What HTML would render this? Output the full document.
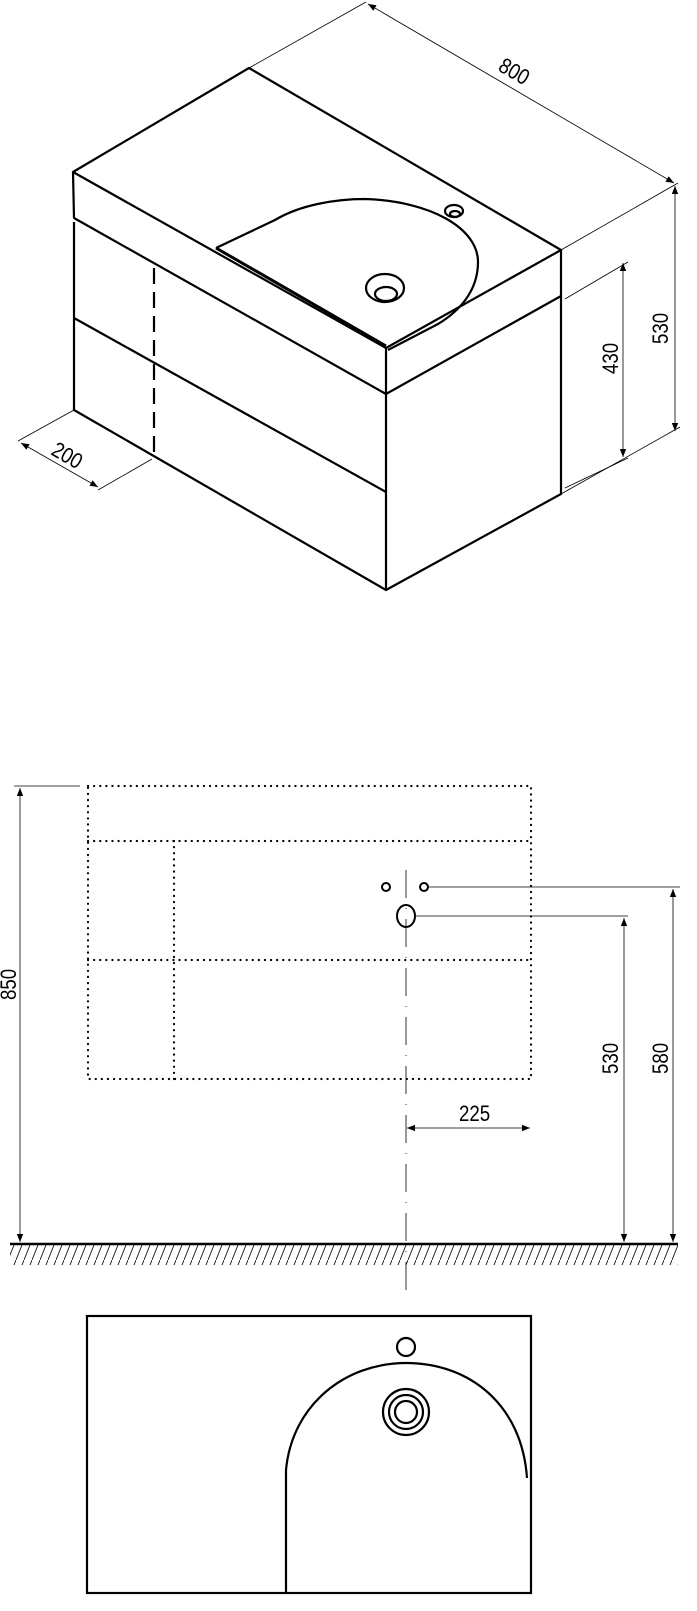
<!DOCTYPE html>
<html><head><meta charset="utf-8"><style>
html,body{margin:0;padding:0;background:#fff;}
svg{display:block;}
text{font-family:"Liberation Sans",sans-serif;font-size:22px;fill:#000;}
</style></head><body>
<svg width="697" height="1611" viewBox="0 0 697 1611" xmlns="http://www.w3.org/2000/svg">
<defs>
<marker id="ar" viewBox="0 0 10 10" refX="10" refY="5" markerWidth="14" markerHeight="8" orient="auto-start-reverse" markerUnits="userSpaceOnUse"><path d="M0,1 L10,5 L0,9 z" fill="#000"/></marker>
<pattern id="hatch" width="8" height="20" patternUnits="userSpaceOnUse"><path d="M8,0 L0,20" stroke="#000" stroke-width="0.8"/></pattern>
</defs>
<g fill="none" stroke="#000" stroke-width="2.2" stroke-linejoin="round">
<path d="M249,68 L73,172 L386,348 L561,250 Z"/>
<path d="M73,172 L74,218 L386,394 L561,296 L561,250"/>
<path d="M386,348 L386,394"/>
<path d="M74,222 L74,410 L386,590 L561,494 L561,296"/>
<path d="M386,394 L386,590"/>
<path d="M74,318 L386,492"/>
<path d="M154,268 L154,455" stroke-dasharray="16,8"/>
<path d="M216,248 L275,220 C300,205 335,199 365,199 C430,201 478,228 478,262 C478,292 458,312 438,324 L388,350"/>
<path d="M216,248 L386,346" stroke-width="3"/>
<ellipse cx="385" cy="288" rx="19" ry="14"/>
<ellipse cx="386" cy="294" rx="11" ry="7"/>
<ellipse cx="454" cy="211" rx="9" ry="6"/>
<ellipse cx="455" cy="214" rx="5" ry="3"/>
</g>
<g stroke="#000" stroke-width="0.8" fill="none">
<path d="M249,68 L366,2"/>
<path d="M561,250 L678,183"/>
<path d="M368,4 L674,183" marker-start="url(#ar)" marker-end="url(#ar)"/>
<path d="M561,494 L680,427"/>
<path d="M675,186 L675,431" marker-start="url(#ar)" marker-end="url(#ar)"/>
<path d="M565,299 L628,262"/>
<path d="M565,488 L628,458"/>
<path d="M623,263 L623,457" marker-start="url(#ar)" marker-end="url(#ar)"/>
<path d="M74,410 L18,441"/>
<path d="M152,459 L98,490"/>
<path d="M21,443 L98,487" marker-start="url(#ar)" marker-end="url(#ar)"/>
</g>
<text transform="translate(497,70) rotate(30) scale(0.85,1)">800</text>
<text transform="translate(668,344) rotate(-90) scale(0.85,1)">530</text>
<text transform="translate(618,374) rotate(-90) scale(0.85,1)">430</text>
<text transform="translate(50,454) rotate(30) scale(0.85,1)">200</text>

<g fill="none" stroke="#000" stroke-width="2.2" stroke-dasharray="0.1,6" stroke-linecap="round">
<rect x="88" y="786" width="443" height="293"/>
<path d="M88,841 L531,841 M88,960 L531,960 M174,841 L174,1079"/>
</g>
<g fill="none" stroke="#000" stroke-width="2">
<circle cx="386" cy="887" r="4"/>
<circle cx="424" cy="887" r="4"/>
<ellipse cx="406" cy="916" rx="9" ry="11"/>
</g>
<g stroke="#000" stroke-width="0.8" fill="none">
<path d="M406,870 L406,1300" stroke-dasharray="28,10,1,10"/>
<path d="M428,887 L680,887"/>
<path d="M416,916 L628,916"/>
<path d="M673,889 L673,1242" marker-start="url(#ar)" marker-end="url(#ar)"/>
<path d="M624,918 L624,1242" marker-start="url(#ar)" marker-end="url(#ar)"/>
<path d="M14,786 L80,786"/>
<path d="M20,788 L20,1242" marker-start="url(#ar)" marker-end="url(#ar)"/>
<path d="M407,1128 L530,1128" marker-start="url(#ar)" marker-end="url(#ar)"/>
</g>
<text transform="translate(668,1074) rotate(-90) scale(0.85,1)">580</text>
<text transform="translate(618,1074) rotate(-90) scale(0.85,1)">530</text>
<text transform="translate(16,1000) rotate(-90) scale(0.85,1)">850</text>
<text transform="translate(459,1121) scale(0.85,1)">225</text>
<rect x="10" y="1245" width="668" height="20" fill="url(#hatch)"/>
<path d="M10,1244 L678,1244" stroke="#000" stroke-width="2.5"/>

<g fill="none" stroke="#000" stroke-width="2.2">
<rect x="87" y="1316" width="444" height="277"/>
<circle cx="406" cy="1347" r="9"/>
<path d="M286,1593 L286,1470 C292,1405 345,1363 406,1363 C470,1363 522,1405 527,1478"/>
<circle cx="406" cy="1412" r="23"/>
<circle cx="406" cy="1412" r="17"/>
<circle cx="406" cy="1412" r="11"/>
</g>
</svg>
</body></html>
